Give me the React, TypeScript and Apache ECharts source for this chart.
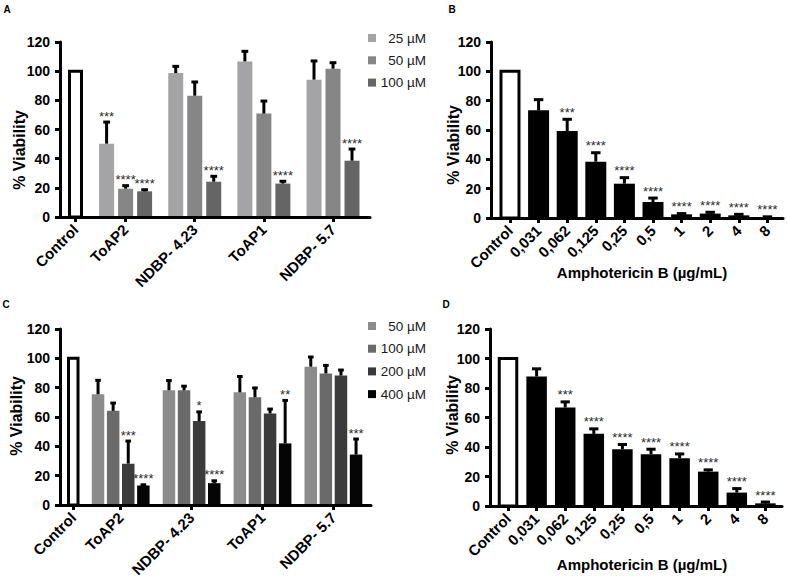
import React, { useEffect, useRef } from 'react';
import * as echarts from 'echarts';

// ---------- DATA ----------
const controlLabel = 'Control';
const controlValue = 100;

// Panel A
const groupsA = ['ToAP2', 'NDBP- 4.23', 'ToAP1', 'NDBP- 5.7'];
const concA = ['25 µM', '50 µM', '100 µM'];
const meanA = [
  [50.3, 98.7, 106.7, 94.2],
  [19.4, 83.2, 70.9, 101.7],
  [17.6, 24.2, 22.9, 38.6],
];
const sdA = [
  [14.8, 4.6, 6.9, 12.8],
  [2.1, 9.4, 8.6, 4.1],
  [1.1, 3.7, 1.6, 8.0],
];
const sigA = [
  ['***', '', '', ''],
  ['****', '', '', ''],
  ['****', '****', '****', '****'],
];

// Panel C
const groupsC = ['ToAP2', 'NDBP- 4.23', 'ToAP1', 'NDBP- 5.7'];
const concC = ['50 µM', '100 µM', '200 µM', '400 µM'];
const meanC = [
  [75.5, 78.2, 76.8, 94.3],
  [64.2, 78.2, 73.4, 89.7],
  [28.2, 57.3, 62.4, 88.3],
  [13.3, 14.9, 42.0, 34.4],
];
const sdC = [
  [9.5, 6.7, 10.8, 6.6],
  [5.3, 2.8, 6.4, 5.5],
  [15.4, 6.2, 3.0, 3.7],
  [0.5, 1.6, 29.3, 10.6],
];
const sigC = [
  ['', '', '', ''],
  ['', '', '', ''],
  ['***', '*', '', ''],
  ['****', '****', '**', '***'],
];

// Panels B and D (Amphotericin B)
const doseLabels = ['0,031', '0,062', '0,125', '0,25', '0,5', '1', '2', '4', '8'];
const meanB = [73.4, 59.3, 38.4, 23.4, 10.9, 2.5, 3.0, 1.8, 0.5];
const sdB = [7.3, 8.0, 6.1, 4.1, 2.7, 0.5, 0.9, 0.7, 0.3];
const sigB = ['', '***', '****', '****', '****', '****', '****', '****', '****'];
const meanD = [87.8, 66.8, 48.9, 38.5, 35.1, 32.4, 23.3, 9.1, 1.8];
const sdD = [5.2, 3.8, 3.4, 3.2, 3.4, 2.9, 1.2, 2.7, 0.9];
const sigD = ['', '***', '****', '****', '****', '****', '****', '****', '****'];

const yTicks = { min: 0, max: 120, interval: 20 };

// ---------- STYLE ----------
const FONT = '"Liberation Sans", Arial, Helvetica, sans-serif';
const colorsA = ['#a4a4a6', '#868686', '#656565'];
const colorsC = ['#8b8b8b', '#6a6a6a', '#3b3b3b', '#050505'];
const ampColor = '#000000';

type PanelLayout = {
  grid: { left: number; top: number; width: number; height: number };
  xMin: number;
  xMax: number;
  controlPos: number;
  slotPx: number;
  barW: number;
  sigGap: number;
};

const layoutA: PanelLayout = { grid: { left: 60, top: 42, width: 310, height: 175 }, xMin: 0.051, xMax: 4.535, controlPos: 0.275, slotPx: 19, barW: 15, sigGap: 6 };
const layoutB: PanelLayout = { grid: { left: 491, top: 42, width: 292, height: 176 }, xMin: -0.664, xMax: 9.545, controlPos: 0, slotPx: 0, barW: 21, sigGap: 7 };
const layoutC: PanelLayout = { grid: { left: 60, top: 329, width: 311, height: 176 }, xMin: 0.144, xMax: 4.53, controlPos: 0.331, slotPx: 15.1, barW: 12.5, sigGap: 6 };
const layoutD: PanelLayout = { grid: { left: 490, top: 329, width: 292, height: 177 }, xMin: -0.63, xMax: 9.58, controlPos: 0, slotPx: 0, barW: 20.5, sigGap: 7 };

function makeBarSeries(
  name: string,
  axisIndex: number,
  xs: number[],
  means: number[],
  sds: number[],
  sigs: string[],
  offsetPx: number,
  barW: number,
  fill: string,
  sigGap: number,
  outlined: boolean
) {
  const data = xs.map((x, i) => [x, means[i], means[i] + sds[i]]);
  return {
    type: 'custom',
    name,
    xAxisIndex: axisIndex,
    yAxisIndex: axisIndex,
    itemStyle: { color: fill },
    encode: { x: 0, y: [1, 2] },
    data,
    z: 2,
    renderItem: (params: any, api: any) => {
      const x = api.value(0);
      const y = api.value(1);
      const e = api.value(2);
      const top = api.coord([x, y]);
      const base = api.coord([x, 0]);
      const errTop = api.coord([x, e]);
      const cx = top[0] + offsetPx;
      const children: any[] = [];
      if (outlined) {
        children.push({
          type: 'rect',
          shape: { x: cx - (barW - 3) / 2, y: top[1], width: barW - 3, height: base[1] - top[1] },
          style: { fill: '#ffffff', stroke: '#000000', lineWidth: 3 },
        });
      } else {
        children.push({
          type: 'rect',
          shape: { x: cx - barW / 2, y: top[1], width: barW, height: Math.max(0, base[1] - top[1]) },
          style: { fill },
        });
      }
      const capW = barW * 0.45;
      if (e > y) {
        children.push({
          type: 'line',
          shape: { x1: cx, y1: top[1], x2: cx, y2: errTop[1] },
          style: { stroke: '#000000', lineWidth: 3 },
        });
        children.push({
          type: 'line',
          shape: { x1: cx - capW / 2, y1: errTop[1], x2: cx + capW / 2, y2: errTop[1] },
          style: { stroke: '#000000', lineWidth: 3 },
        });
      }
      const sig = sigs[params.dataIndex];
      if (sig) {
        const ref = Math.min(errTop[1], top[1]);
        children.push({
          type: 'text',
          style: {
            text: sig,
            x: cx,
            y: ref - sigGap,
            align: 'center',
            verticalAlign: 'middle',
            font: `13px ${FONT}`,
            fill: '#2b2b2b',
          },
        });
      }
      return { type: 'group', children };
    },
  };
}

function groupedPanelSeries(
  axisIndex: number,
  layout: PanelLayout,
  groups: string[],
  conc: string[],
  means: number[][],
  sds: number[][],
  sigs: string[][],
  colors: string[]
) {
  const xs = groups.map((_, i) => i + 1);
  const series: any[] = [];
  series.push(
    makeBarSeries(controlLabel, axisIndex, [layout.controlPos], [controlValue], [0], [''], 0, layout.barW, '#fff', layout.sigGap, true)
  );
  conc.forEach((c, j) => {
    const off = (j - (conc.length - 1) / 2) * layout.slotPx;
    series.push(makeBarSeries(c, axisIndex, xs, means[j], sds[j], sigs[j], off, layout.barW, colors[j], layout.sigGap, false));
  });
  return series;
}

function ampPanelSeries(axisIndex: number, layout: PanelLayout, name: string, means: number[], sds: number[], sigs: string[]) {
  const xs = doseLabels.map((_, i) => i + 1);
  return [
    makeBarSeries(controlLabel, axisIndex, [0], [controlValue], [0], [''], 0, layout.barW, '#fff', layout.sigGap, true),
    makeBarSeries(name, axisIndex, xs, means, sds, sigs, 0, layout.barW, ampColor, layout.sigGap, false),
  ];
}

function xAxisFor(index: number, layout: PanelLayout, positions: number[], labels: string[]) {
  return {
    type: 'value',
    gridIndex: index,
    min: layout.xMin,
    max: layout.xMax,
    z: 5,
    axisLine: { show: true, onZero: false, lineStyle: { color: '#000', width: 3 } },
    axisTick: { show: true, customValues: positions, length: 5, lineStyle: { color: '#000', width: 3 } },
    axisLabel: {
      show: true,
      customValues: positions,
      rotate: 45,
      margin: 10,
      color: '#000',
      fontWeight: 'bold',
      fontSize: 15,
      fontFamily: FONT,
      formatter: (v: number) => {
        let best = 0;
        let bd = Infinity;
        positions.forEach((p, i) => {
          const d = Math.abs(p - v);
          if (d < bd) {
            bd = d;
            best = i;
          }
        });
        return labels[best];
      },
    },
    splitLine: { show: false },
  };
}

function yAxisFor(index: number) {
  return {
    type: 'value',
    gridIndex: index,
    min: yTicks.min,
    max: yTicks.max,
    interval: yTicks.interval,
    z: 5,
    axisLine: { show: true, onZero: false, lineStyle: { color: '#000', width: 3 } },
    axisTick: { show: true, length: 5, lineStyle: { color: '#000', width: 3 } },
    axisLabel: { color: '#000', fontWeight: 'bold', fontSize: 14, fontFamily: FONT, margin: 10 },
    splitLine: { show: false },
  };
}

function textEl(text: string, x: number, y: number, font: string, rotation = 0) {
  return {
    type: 'text',
    x,
    y,
    rotation,
    style: { text, font, fill: '#000', align: 'center', verticalAlign: 'middle' },
  };
}

export default function App() {
  const ref = useRef<HTMLDivElement>(null);

  useEffect(() => {
    if (!ref.current) return;
    const chart = echarts.init(ref.current, undefined, { renderer: 'svg' });

    const posGrouped = (layout: PanelLayout, groups: string[]) => [layout.controlPos, ...groups.map((_, i) => i + 1)];
    const posAmp = [0, ...doseLabels.map((_, i) => i + 1)];

    const legendText = {
      formatter: (name: string) => `{n|${name}}`,
      textStyle: {
        rich: { n: { width: 45, align: 'right', fontSize: 13.5, lineHeight: 14, fontFamily: FONT, color: '#1a1a1a' } },
      },
    };

    const option: any = {
      animation: false,
      backgroundColor: '#ffffff',
      grid: [layoutA.grid, layoutB.grid, layoutC.grid, layoutD.grid].map((g) => ({ ...g, containLabel: false })),
      xAxis: [
        xAxisFor(0, layoutA, posGrouped(layoutA, groupsA), [controlLabel, ...groupsA]),
        xAxisFor(1, layoutB, posAmp, [controlLabel, ...doseLabels]),
        xAxisFor(2, layoutC, posGrouped(layoutC, groupsC), [controlLabel, ...groupsC]),
        xAxisFor(3, layoutD, posAmp, [controlLabel, ...doseLabels]),
      ],
      yAxis: [yAxisFor(0), yAxisFor(1), yAxisFor(2), yAxisFor(3)],
      legend: [
        {
          orient: 'vertical',
          left: 368,
          top: 31,
          itemWidth: 8,
          itemHeight: 8,
          itemGap: 8.3,
          itemTextGap: 4,
          icon: 'rect',
          selectedMode: false,
          padding: 0,
          data: concA.map((n, i) => ({ name: n, itemStyle: { color: colorsA[i] } })),
          ...legendText,
        },
        {
          orient: 'vertical',
          left: 368,
          top: 319,
          itemWidth: 8,
          itemHeight: 8,
          itemGap: 8.7,
          itemTextGap: 4,
          icon: 'rect',
          selectedMode: false,
          padding: 0,
          data: concC.map((n, i) => ({ name: n, itemStyle: { color: colorsC[i] } })),
          ...legendText,
        },
      ],
      graphic: [
        textEl('A', 7, 9, `bold 10px ${FONT}`),
        textEl('B', 452, 9, `bold 10px ${FONT}`),
        textEl('C', 6, 304, `bold 10px ${FONT}`),
        textEl('D', 446, 304, `bold 10px ${FONT}`),
        textEl('% Viability', 19, 150, `bold 16px ${FONT}`, Math.PI / 2),
        textEl('% Viability', 453, 145, `bold 16px ${FONT}`, Math.PI / 2),
        textEl('% Viability', 16, 416, `bold 16px ${FONT}`, Math.PI / 2),
        textEl('% Viability', 452, 415, `bold 16px ${FONT}`, Math.PI / 2),
        textEl('Amphotericin B (µg/mL)', 642, 272, `bold 15px ${FONT}`),
        textEl('Amphotericin B (µg/mL)', 642, 564, `bold 15px ${FONT}`),
      ],
      series: [
        ...groupedPanelSeries(0, layoutA, groupsA, concA, meanA, sdA, sigA, colorsA),
        ...ampPanelSeries(1, layoutB, 'Amphotericin B (B)', meanB, sdB, sigB),
        ...groupedPanelSeries(2, layoutC, groupsC, concC, meanC, sdC, sigC, colorsC),
        ...ampPanelSeries(3, layoutD, 'Amphotericin B (D)', meanD, sdD, sigD),
      ],
    };

    chart.setOption(option);
    return () => chart.dispose();
  }, []);

  return <div ref={ref} style={{ position: 'fixed', left: 0, top: 0, width: 787, height: 585, background: '#fff' }} />;
}
